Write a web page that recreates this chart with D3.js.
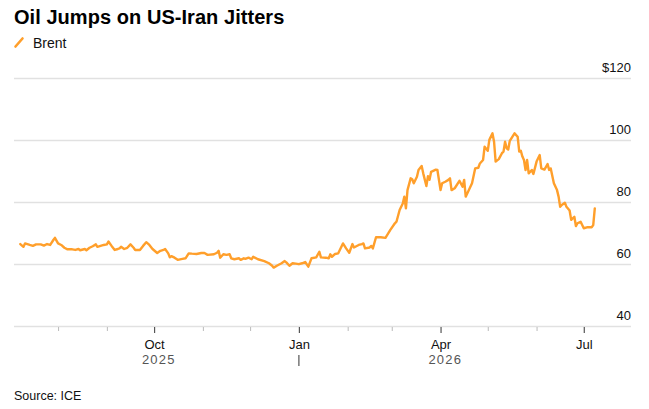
<!DOCTYPE html>
<html>
<head>
<meta charset="utf-8">
<script src="https://cdn.jsdelivr.net/npm/d3@7"></script>
<style>
  html, body { margin: 0; padding: 0; background: #fff; }
  svg { display: block; font-family: "Liberation Sans", Arial, sans-serif; }
</style>
</head>
<body>
<svg id="chart" width="649" height="409"></svg>
<script>
// ---- Data ----
const dates = [
  "2025-07-08","2025-07-10","2025-07-11","2025-07-14","2025-07-16","2025-07-18","2025-07-21","2025-07-23","2025-07-25","2025-07-27",
  "2025-07-29","2025-07-30","2025-08-01","2025-08-03","2025-08-05","2025-08-07","2025-08-10","2025-08-12","2025-08-14","2025-08-15",
  "2025-08-18","2025-08-19","2025-08-21","2025-08-23","2025-08-25","2025-08-26","2025-08-28","2025-08-30","2025-09-01","2025-09-02",
  "2025-09-04","2025-09-06","2025-09-08","2025-09-09","2025-09-10","2025-09-12","2025-09-14","2025-09-16","2025-09-18","2025-09-19",
  "2025-09-22","2025-09-24","2025-09-26","2025-09-28","2025-09-30","2025-10-03","2025-10-05","2025-10-07","2025-10-08","2025-10-10",
  "2025-10-11","2025-10-12","2025-10-14","2025-10-16","2025-10-19","2025-10-21","2025-10-23","2025-10-25","2025-10-28","2025-10-31",
  "2025-11-02","2025-11-04","2025-11-08","2025-11-10","2025-11-11","2025-11-12","2025-11-14","2025-11-16","2025-11-18","2025-11-19",
  "2025-11-21","2025-11-24","2025-11-25","2025-11-27","2025-11-28","2025-11-30","2025-12-02","2025-12-03","2025-12-04","2025-12-06",
  "2025-12-10","2025-12-13","2025-12-15","2025-12-16","2025-12-18","2025-12-21","2025-12-23","2025-12-24","2025-12-26","2025-12-28",
  "2025-12-30","2026-01-01","2026-01-03","2026-01-05","2026-01-07","2026-01-09","2026-01-12","2026-01-14","2026-01-15","2026-01-18",
  "2026-01-20","2026-01-21","2026-01-22","2026-01-24","2026-01-26","2026-01-29","2026-01-31","2026-02-02","2026-02-04","2026-02-05",
  "2026-02-08","2026-02-10","2026-02-11","2026-02-12","2026-02-15","2026-02-16","2026-02-17","2026-02-19","2026-02-22","2026-02-25",
  "2026-02-28","2026-03-03","2026-03-04","2026-03-06","2026-03-08","2026-03-09","2026-03-10","2026-03-11","2026-03-13","2026-03-14",
  "2026-03-15","2026-03-17","2026-03-18","2026-03-20","2026-03-21","2026-03-23","2026-03-24","2026-03-25","2026-03-26","2026-03-29",
  "2026-03-30","2026-04-01","2026-04-02","2026-04-04","2026-04-06","2026-04-07","2026-04-08","2026-04-10","2026-04-13","2026-04-15",
  "2026-04-16","2026-04-17","2026-04-19","2026-04-21","2026-04-23","2026-04-25","2026-04-26","2026-04-28","2026-04-29","2026-05-01",
  "2026-05-02","2026-05-04","2026-05-05","2026-05-06","2026-05-08","2026-05-10","2026-05-11","2026-05-12","2026-05-13","2026-05-14",
  "2026-05-15","2026-05-17","2026-05-18","2026-05-20","2026-05-21","2026-05-22","2026-05-23","2026-05-24","2026-05-25","2026-05-26",
  "2026-05-27","2026-05-29","2026-05-30","2026-06-01","2026-06-03","2026-06-04","2026-06-06","2026-06-08","2026-06-09","2026-06-10",
  "2026-06-12","2026-06-14","2026-06-15","2026-06-16","2026-06-17","2026-06-19","2026-06-20","2026-06-22","2026-06-23","2026-06-25",
  "2026-06-26","2026-06-27","2026-06-29","2026-07-01","2026-07-03","2026-07-06","2026-07-07","2026-07-08"
];
const brent = [
  66.6,65.7,66.8,66.3,66.0,66.5,66.5,66.1,66.6,66.3,
  67.9,68.6,66.8,66.3,65.4,64.9,64.9,64.7,65.0,64.6,
  65.0,64.6,65.4,65.9,66.5,65.7,66.0,66.3,66.5,67.4,
  66.0,64.7,65.0,65.2,65.7,65.0,65.4,66.5,65.4,64.7,
  64.7,66.0,67.2,66.3,65.0,63.7,64.4,64.7,65.0,63.6,
  62.3,62.7,62.2,61.5,61.8,62.0,63.6,63.5,63.4,63.7,
  63.7,63.1,63.3,63.8,64.4,62.2,63.3,63.1,63.3,62.0,
  61.7,62.0,61.5,62.0,61.8,62.2,61.7,62.5,62.2,61.7,
  61.1,60.4,59.6,59.0,59.6,60.4,61.1,60.7,59.6,60.4,
  60.3,60.1,60.4,60.8,59.3,62.0,62.3,64.1,62.3,62.2,
  62.0,63.3,62.5,63.4,63.6,66.8,65.2,63.8,66.6,65.5,
  66.3,66.6,66.8,65.2,65.5,66.0,65.2,68.8,68.8,68.6,
  71.1,73.3,73.8,77.6,79.7,81.9,78.1,84.0,87.8,87.5,
  86.2,88.3,90.5,91.8,89.4,85.3,88.5,87.3,89.9,90.6,
  90.5,84.0,86.2,86.7,87.3,87.8,84.0,84.6,87.0,85.1,
  87.3,81.9,84.0,86.2,91.0,91.2,92.6,93.7,98.0,96.7,
  100.2,102.3,99.6,93.2,94.0,95.9,96.4,99.6,97.5,97.1,
  99.9,101.5,102.3,101.2,96.4,96.7,94.8,93.7,90.5,93.7,
  89.4,90.5,89.2,93.2,95.3,91.0,90.6,92.4,90.5,91.0,
  86.2,84.0,81.9,78.6,79.2,79.9,78.6,77.4,74.4,75.4,
  72.4,73.3,73.8,71.7,72.0,72.0,72.7,78.1
];
const yTicks = [40, 60, 80, 100, 120];
const monthTicks = ["2025-10-01","2026-01-01","2026-04-01","2026-07-01"];
const monthLabels = ["Oct","Jan","Apr","Jul"];
const minorTicks = ["2025-08-01","2025-09-01","2025-11-01","2025-12-01","2026-02-01","2026-03-01","2026-05-01","2026-06-01"];
const yearLabels = ["2025","2026"];
const yearAnchors = ["2025-10-04","2026-04-04"];
const xDomain = ["2025-07-04","2026-07-31"];

(function () {
  const parse = d3.utcParse("%Y-%m-%d");
  const data = dates.map((d, i) => ({ date: parse(d), value: brent[i] }));

  const svg = d3.select("#chart");
  const mLeft = 14, mRight = 631, mTop = 78.5, mBottom = 326.5;
  const x = d3.scaleUtc().domain(xDomain.map(parse)).range([mLeft, mRight]);
  const y = d3.scaleLinear().domain([40, 120]).range([mBottom, mTop]);

  // Title
  svg.append("text").attr("x", 14).attr("y", 24)
    .attr("font-size", 20).attr("font-weight", 700).attr("fill", "#000")
    .attr("letter-spacing", 0.05)
    .text("Oil Jumps on US-Iran Jitters");

  // Legend
  svg.append("line").attr("x1", 15.5).attr("y1", 46.5).attr("x2", 22.5).attr("y2", 38.5)
    .attr("stroke", "#ff9f2b").attr("stroke-width", 2.6).attr("stroke-linecap", "round");
  svg.append("text").attr("x", 33).attr("y", 47.5)
    .attr("font-size", 14).attr("fill", "#111").text("Brent");

  // Gridlines
  svg.append("g").selectAll("line").data(yTicks).join("line")
    .attr("x1", mLeft).attr("x2", mRight)
    .attr("y1", d => y(d)).attr("y2", d => y(d))
    .attr("stroke", "#e1e1e1").attr("stroke-width", 1.6);

  // Y labels
  svg.append("g").selectAll("text").data(yTicks).join("text")
    .attr("x", mRight).attr("y", d => y(d) - 7)
    .attr("text-anchor", "end").attr("font-size", 13).attr("fill", "#111")
    .text(d => d === 120 ? "$" + d : d);

  // X ticks (major/minor) via d3 axis
  const xAxisMajor = d3.axisBottom(x)
    .tickValues(monthTicks.map(parse))
    .tickSize(6).tickPadding(4)
    .tickFormat((d, i) => monthLabels[i]);
  const gMaj = svg.append("g").attr("transform", `translate(0,${mBottom + 0.5})`).call(xAxisMajor);
  gMaj.select(".domain").remove();
  gMaj.selectAll("line").attr("stroke", "#555").attr("stroke-width", 1.2);
  gMaj.selectAll("text").attr("font-size", 13).attr("fill", "#111")
    .attr("font-family", "Liberation Sans, Arial, sans-serif").attr("dy", "0.95em");

  const xAxisMinor = d3.axisBottom(x)
    .tickValues(minorTicks.map(parse)).tickSize(4).tickFormat("");
  const gMin = svg.append("g").attr("transform", `translate(0,${mBottom + 0.5})`).call(xAxisMinor);
  gMin.select(".domain").remove();
  gMin.selectAll("line").attr("stroke", "#bbb").attr("stroke-width", 1);

  // Year labels
  svg.append("g").selectAll("text").data(yearLabels).join("text")
    .attr("x", (d, i) => x(parse(yearAnchors[i])))
    .attr("y", 364)
    .attr("text-anchor", "middle").attr("font-size", 13).attr("fill", "#555")
    .attr("letter-spacing", 1.2)
    .text(d => d);

  // Year separator at Jan
  svg.append("line")
    .attr("x1", x(parse("2026-01-01"))).attr("x2", x(parse("2026-01-01")))
    .attr("y1", 355).attr("y2", 366)
    .attr("stroke", "#555").attr("stroke-width", 1.2);

  // Line
  const line = d3.line().x(d => x(d.date)).y(d => y(d.value)).curve(d3.curveLinear);
  svg.append("path").datum(data)
    .attr("d", line).attr("fill", "none")
    .attr("stroke", "#ff9f2b").attr("stroke-width", 2.4)
    .attr("stroke-linejoin", "round").attr("stroke-linecap", "round");

  // Source
  svg.append("text").attr("x", 14).attr("y", 399.5)
    .attr("font-size", 12.5).attr("fill", "#111").text("Source: ICE");
})();
</script>
</body>
</html>
